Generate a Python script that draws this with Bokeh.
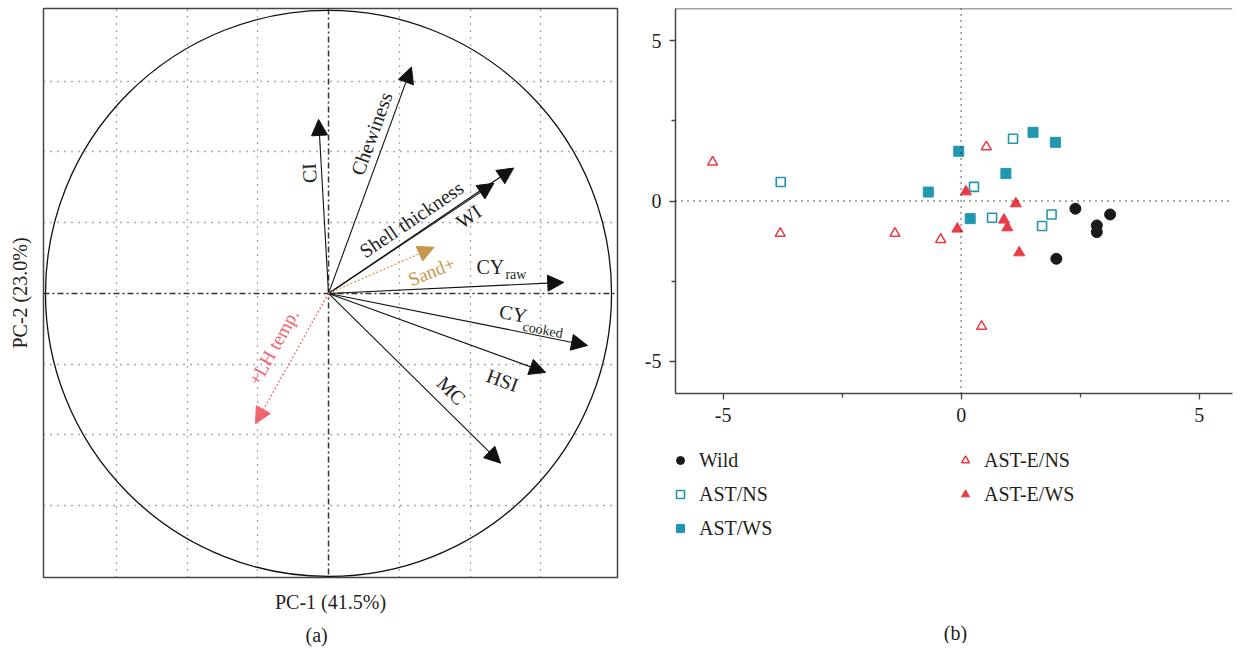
from bokeh.plotting import figure
from bokeh.models import (ColumnDataSource, Arrow, NormalHead, LabelSet, Label, Span, FixedTicker,
                          Range1d, Title, Legend, LegendItem)
from bokeh.layouts import row, column
from bokeh.embed import file_html
from bokeh.resources import INLINE

# ---------------- data ----------------
# (a) loadings on PC-1 / PC-2
variables = ["CI", "Chewiness", "Shell thickness", "WI", "CY_raw", "CY_cooked", "HSI", "MC"]
load_pc1 = [-0.035, 0.293, 0.584, 0.654, 0.831, 0.915, 0.767, 0.608]
load_pc2 = [0.615, 0.800, 0.389, 0.443, 0.039, -0.184, -0.279, -0.600]
# supplementary variables
supp_vars = ["Sand+", "+LH temp."]
supp_pc1 = [0.373, -0.258]
supp_pc2 = [0.163, -0.460]

# (b) scores
wild_x = [2.40, 2.85, 2.85, 3.13, 2.00]
wild_y = [-0.24, -0.76, -0.97, -0.42, -1.80]
astns_x = [-3.79, 0.27, 1.09, 0.65, 1.90, 1.70]
astns_y = [0.59, 0.44, 1.94, -0.52, -0.42, -0.78]
astws_x = [-0.69, -0.05, 0.94, 1.51, 1.98, 0.19]
astws_y = [0.28, 1.55, 0.86, 2.14, 1.83, -0.55]
astens_x = [-5.22, -3.80, -1.39, -0.43, 0.53, 0.43]
astens_y = [1.21, -1.01, -1.01, -1.20, 1.69, -3.91]
astews_x = [0.10, 1.15, 0.90, 0.97, -0.08, 1.22]
astews_y = [0.29, -0.08, -0.59, -0.83, -0.87, -1.61]
groups = ["Wild", "AST/NS", "AST/WS", "AST-E/NS", "AST-E/WS"]

x_ticks_b = [-5, 0, 5]
y_ticks_b = [-5, 0, 5]

# ---------------- style ----------------
FONT = "Liberation Serif"
TXT = "#231F20"
TEAL = "#2197AF"
RED = "#EA3A44"
TAN = "#C8964E"
SALMON = "#F06470"

# ---------------- panel (a) ----------------
pa = figure(frame_width=574, frame_height=569,
            x_range=Range1d(-1.007, 1.021), y_range=Range1d(-1.004, 1.007),
            output_backend="svg", toolbar_location=None,
            min_border_left=43, min_border_right=23, min_border_top=8, min_border_bottom=0)
pa.outline_line_color = "#444444"
pa.outline_line_width = 1.5
for ax in (pa.xaxis, pa.yaxis):
    ax.ticker = FixedTicker(ticks=[])
    ax.axis_line_color = None
    ax.major_tick_out = 0
    ax.major_tick_in = 0
    ax.minor_tick_out = 0
    ax.major_label_standoff = 0
    ax.axis_label_text_font = FONT
    ax.axis_label_text_font_size = "20px"
    ax.axis_label_text_font_style = "normal"
    ax.axis_label_text_color = TXT
pa.xaxis.axis_label = "PC-1 (41.5%)"
pa.yaxis.axis_label = "PC-2 (23.0%)"
pa.xaxis.axis_label_standoff = 13
pa.yaxis.axis_label_standoff = 13
grid_ticks = [-0.75, -0.5, -0.25, 0.25, 0.5, 0.75]
pa.xgrid.ticker = FixedTicker(ticks=grid_ticks)
pa.ygrid.ticker = FixedTicker(ticks=grid_ticks)
for g in (pa.xgrid, pa.ygrid):
    g.grid_line_color = "#555555"
    g.grid_line_dash = "1 6"
    g.grid_line_width = 1.3

pa.add_layout(Span(location=0, dimension="height", line_color="#333333",
                   line_dash="6 3 2 3", line_width=1.5))
pa.add_layout(Span(location=0, dimension="width", line_color="#333333",
                   line_dash="6 3 2 3", line_width=1.5))
pa.circle(x=[0], y=[0], radius=1, fill_color=None, line_color="#111111", line_width=1.3)

load_src = ColumnDataSource(dict(x0=[0] * len(load_pc1), y0=[0] * len(load_pc1),
                                 x=load_pc1, y=load_pc2))
pa.add_layout(Arrow(source=load_src, x_start="x0", y_start="y0", x_end="x", y_end="y",
                    line_color="#111111", line_width=1.1,
                    end=NormalHead(size=16, fill_color="#111111", line_color="#111111")))
sand_src = ColumnDataSource(dict(x0=[0], y0=[0], x=[supp_pc1[0]], y=[supp_pc2[0]]))
pa.add_layout(Arrow(source=sand_src, x_start="x0", y_start="y0", x_end="x", y_end="y",
                    line_color=TAN, line_width=1.2, line_dash="2 2",
                    end=NormalHead(size=16, fill_color=TAN, line_color=TAN)))
lh_src = ColumnDataSource(dict(x0=[0], y0=[0], x=[supp_pc1[1]], y=[supp_pc2[1]]))
pa.add_layout(Arrow(source=lh_src, x_start="x0", y_start="y0", x_end="x", y_end="y",
                    line_color=SALMON, line_width=1.2, line_dash="2 2",
                    end=NormalHead(size=16, fill_color=SALMON, line_color=SALMON)))

# label placement (layout)
lab = ColumnDataSource(dict(
    text=["CI", "Chewiness", "Shell thickness", "WI", "CY", "CY", "HSI", "MC"],
    x=[-0.068, 0.152, 0.293, 0.495, 0.572, 0.653, 0.615, 0.434],
    y=[0.425, 0.565, 0.262, 0.272, 0.095, -0.071, -0.307, -0.343],
    angle=[93, 70, 34, 34, 0, -11, -20, -45]))
pa.add_layout(LabelSet(source=lab, x="x", y="y", text="text", angle="angle", angle_units="deg",
                       text_align="center", text_baseline="middle", text_font=FONT,
                       text_font_size="20px", text_color=TXT))
sub = ColumnDataSource(dict(text=["raw", "cooked"], x=[0.662, 0.757], y=[0.067, -0.129],
                            angle=[0, -11]))
pa.add_layout(LabelSet(source=sub, x="x", y="y", text="text", angle="angle", angle_units="deg",
                       text_align="center", text_baseline="middle", text_font=FONT,
                       text_font_size="14px", text_color=TXT))
supp_lab = ColumnDataSource(dict(text=supp_vars, x=[0.364, -0.194], y=[0.078, -0.19],
                                 angle=[22, 61], color=[TAN, SALMON]))
pa.add_layout(LabelSet(source=supp_lab, x="x", y="y", text="text", angle="angle", angle_units="deg",
                       text_align="center", text_baseline="middle", text_font=FONT,
                       text_font_size="19px", text_color="color"))

pa.add_layout(Title(text="(a)", align="left", offset=262, standoff=12, text_font=FONT,
                    text_font_size="20px", text_font_style="normal", text_color=TXT), "below")

# ---------------- panel (b) ----------------
styles = [
    dict(marker="circle", size=11, fill_color="#1a1a1a", line_color="#1a1a1a"),
    dict(marker="square", size=9, fill_color="white", line_color=TEAL, line_width=1.6),
    dict(marker="square", size=10, fill_color=TEAL, line_color=TEAL),
    dict(marker="triangle", size=10, fill_color="white", line_color=RED, line_width=1.5),
    dict(marker="triangle", size=11, fill_color=RED, line_color=RED),
]
score_x = [wild_x, astns_x, astws_x, astens_x, astews_x]
score_y = [wild_y, astns_y, astws_y, astens_y, astews_y]

pb = figure(frame_width=557, frame_height=385,
            x_range=Range1d(-6, 5.70), y_range=Range1d(-6, 6),
            output_backend="svg", toolbar_location=None,
            min_border_left=35, min_border_right=2, min_border_top=8, min_border_bottom=40)
pb.outline_line_color = None
pb.grid.visible = False
pb.xaxis.ticker = FixedTicker(ticks=x_ticks_b, minor_ticks=[-2.5, 2.5])
pb.yaxis.ticker = FixedTicker(ticks=y_ticks_b, minor_ticks=[-2.5, 2.5])
pb.xaxis.major_label_overrides = {t: str(t) for t in x_ticks_b}
pb.yaxis.major_label_overrides = {t: str(t) for t in y_ticks_b}
for ax in (pb.xaxis, pb.yaxis):
    ax.axis_line_color = "#444444"
    ax.axis_line_width = 1.5
    ax.major_tick_line_color = "#444444"
    ax.minor_tick_line_color = "#444444"
    ax.major_tick_line_width = 1.3
    ax.minor_tick_line_width = 1.3
    ax.major_tick_in = 0
    ax.major_tick_out = 6
    ax.minor_tick_in = 0
    ax.minor_tick_out = 4
    ax.major_label_text_font = FONT
    ax.major_label_text_font_size = "20px"
    ax.major_label_text_color = TXT
pb.xaxis.major_label_standoff = 8
pb.yaxis.major_label_standoff = 8
pb.add_layout(Span(location=6, dimension="width", line_color="#444444", line_width=1.5))
pb.add_layout(Span(location=0, dimension="height", line_color="#222222",
                   line_dash="1 5", line_width=1.5))
pb.add_layout(Span(location=0, dimension="width", line_color="#222222",
                   line_dash="1 5", line_width=1.5))

for xs, ys, st in zip(score_x, score_y, styles):
    pb.scatter(xs, ys, **st)

# ---------------- legend + caption (b) ----------------
LEG_W, LEG_H = 594, 210
pl = figure(frame_width=LEG_W, frame_height=LEG_H,
            x_range=Range1d(0, LEG_W), y_range=Range1d(0, LEG_H),
            x_axis_type=None, y_axis_type=None,
            output_backend="svg", toolbar_location=None,
            min_border_left=0, min_border_right=0, min_border_top=0, min_border_bottom=0)
pl.outline_line_color = None
pl.grid.visible = False
items = []
nan = float("nan")
for name, st in zip(groups, styles):
    # legend proxy: one NaN point so it is never drawn on the canvas itself
    r = pl.scatter(x=[nan], y=[nan], **st)
    items.append(LegendItem(label=name, renderers=[r]))
legend = Legend(items=items, orientation="vertical", nrows=3, location=(30, 100),
                glyph_width=20, glyph_height=30, label_height=30, label_width=252, spacing=4,
                label_standoff=9, padding=0, margin=0, border_line_color=None,
                background_fill_alpha=0, label_text_font=FONT, label_text_font_size="20px",
                label_text_color=TXT)
pl.add_layout(legend)
pl.add_layout(Label(x=280, y=LEG_H - 199, text="(b)", text_align="center",
                    text_baseline="middle", text_font=FONT, text_font_size="20px",
                    text_color=TXT))

out = row(pa, column(pb, pl))
open("out.html", "w").write(file_html(out, INLINE))
